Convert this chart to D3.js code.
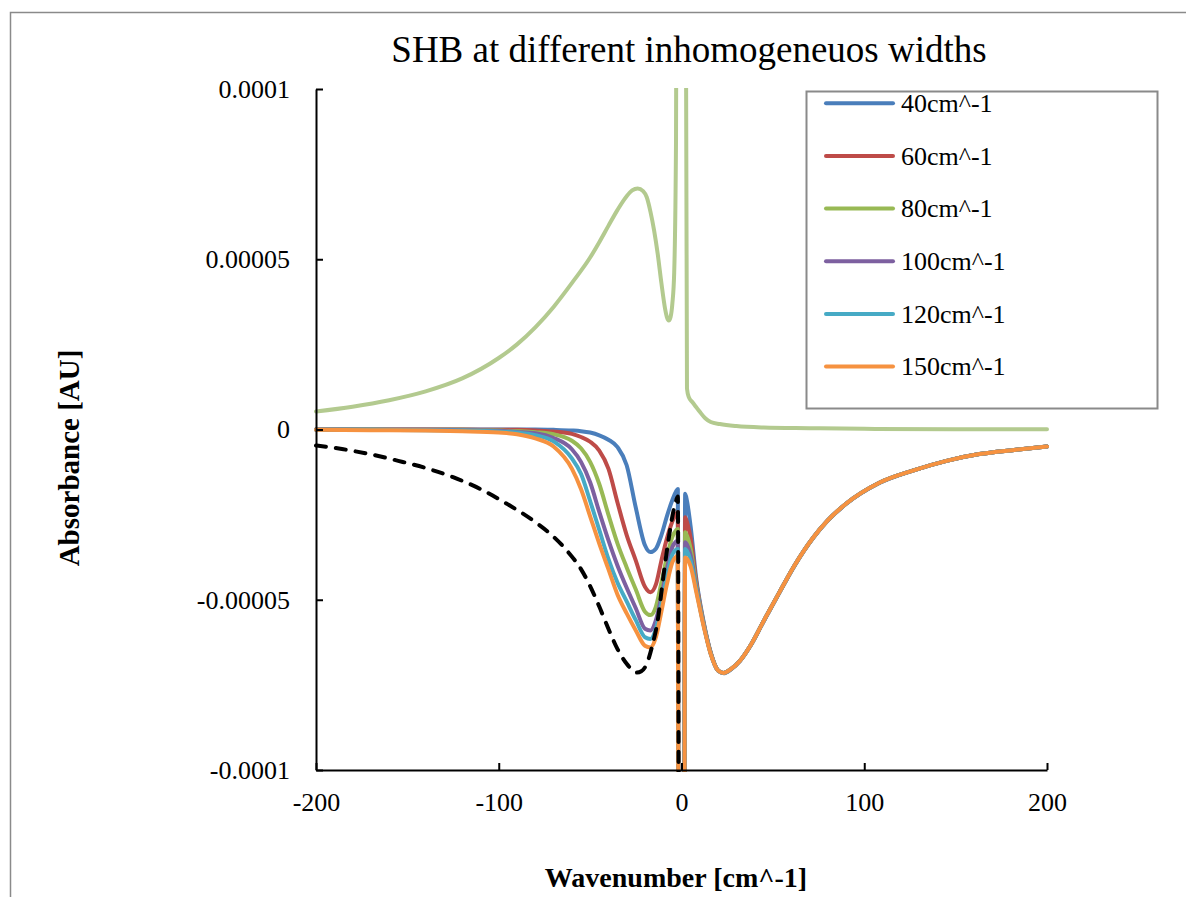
<!DOCTYPE html>
<html>
<head>
<meta charset="utf-8">
<script src="https://cdn.jsdelivr.net/npm/d3@7"></script>
<style>
  body { margin: 0; background: #fff; }
  svg text { font-family: "Liberation Serif", "Times New Roman", serif; fill: #000; }
</style>
</head>
<body>
<svg id="chart" width="1186" height="897"></svg>
<script>
// Absorbance values are given in units of 1e-5 AU.

// Wavenumber grid shared by the hole-burning spectra [cm^-1]
const wavenumber = [-200, -170, -140, -120, -100, -90, -80, -70, -60, -55,
  -50, -45, -40, -35, -30, -25, -20, -17, -14, -11,
  -8, -5, -3, -2, -1, 0, 1, 2, 3, 5,
  8, 12, 16, 20, 23, 27, 32, 38, 45, 54,
  62, 72, 80, 90, 108, 127, 145, 163, 182, 200];

const seriesNames = ["40cm^-1", "60cm^-1", "80cm^-1", "100cm^-1", "120cm^-1", "150cm^-1"];

const shb40 = [0, 0, 0, 0, 0, 0, 0, -0.01, -0.03, -0.05,
  -0.09, -0.17, -0.3, -0.52, -1.05, -2.3, -3.4, -3.6, -3.5, -3.1,
  -2.55, -2.07, -1.82, -1.75, -40, -60, -40, -1.89, -2.1, -2.85,
  -4.35, -5.62, -6.55, -7.08, -7.16, -7.05, -6.8, -6.33, -5.63, -4.75,
  -3.99, -3.19, -2.68, -2.19, -1.58, -1.2, -0.92, -0.72, -0.6, -0.5];

const shb60 = [0, 0, 0, 0, -0.01, -0.01, -0.03, -0.06, -0.13, -0.22,
  -0.36, -0.62, -1.15, -2.15, -3.1, -3.85, -4.62, -4.78, -4.55, -3.85,
  -3.2, -2.7, -2.48, -2.43, -40, -60, -40, -2.58, -2.72, -3.2,
  -4.45, -5.66, -6.56, -7.08, -7.15, -7.04, -6.79, -6.32, -5.62, -4.74,
  -3.98, -3.18, -2.67, -2.18, -1.57, -1.2, -0.92, -0.72, -0.6, -0.5];

const shb80 = [0, 0, -0.01, -0.01, -0.03, -0.05, -0.08, -0.14, -0.33, -0.55,
  -0.95, -1.6, -2.5, -3.35, -4.05, -4.7, -5.35, -5.45, -5.2, -4.5,
  -3.75, -3.15, -2.96, -2.92, -40, -60, -40, -3.02, -3.12, -3.5,
  -4.55, -5.68, -6.57, -7.08, -7.15, -7.04, -6.79, -6.32, -5.62, -4.74,
  -3.98, -3.18, -2.67, -2.18, -1.57, -1.2, -0.92, -0.72, -0.6, -0.5];

const shb100 = [0, -0.01, -0.01, -0.02, -0.04, -0.07, -0.11, -0.25, -0.58, -0.95,
  -1.55, -2.42, -3.25, -4.0, -4.65, -5.25, -5.85, -5.9, -5.6, -4.9,
  -4.1, -3.45, -3.29, -3.26, -40, -60, -40, -3.31, -3.38, -3.7,
  -4.62, -5.7, -6.58, -7.08, -7.15, -7.04, -6.79, -6.32, -5.62, -4.74,
  -3.98, -3.18, -2.67, -2.18, -1.57, -1.2, -0.92, -0.72, -0.6, -0.5];

const shb120 = [-0.005, -0.01, -0.02, -0.03, -0.06, -0.09, -0.17, -0.35, -0.85, -1.3,
  -2.1, -2.95, -3.8, -4.5, -5.05, -5.6, -6.1, -6.15, -5.85, -5.1,
  -4.3, -3.67, -3.53, -3.51, -40, -60, -40, -3.51, -3.57, -3.85,
  -4.68, -5.72, -6.59, -7.08, -7.15, -7.04, -6.79, -6.32, -5.62, -4.74,
  -3.98, -3.18, -2.67, -2.18, -1.57, -1.2, -0.92, -0.72, -0.6, -0.5];

const shb150 = [-0.01, -0.02, -0.03, -0.05, -0.09, -0.14, -0.26, -0.5, -1.15, -1.75,
  -2.55, -3.35, -4.1, -4.85, -5.4, -5.9, -6.35, -6.4, -6.1, -5.35,
  -4.55, -3.9, -3.74, -3.71, -40, -60, -40, -3.76, -3.8, -4.02,
  -4.75, -5.75, -6.6, -7.08, -7.15, -7.04, -6.79, -6.32, -5.62, -4.74,
  -3.98, -3.18, -2.67, -2.18, -1.57, -1.2, -0.92, -0.72, -0.6, -0.5];

const seriesColors = ["#4a7ebb", "#be4b48", "#98b954", "#7d60a0", "#46aac5", "#f69240"];

// Positive (anti-hole) spectrum
const antiHoleX = [-200, -180, -160, -140, -120, -100, -90, -80, -70, -60,
  -50, -45, -40, -35, -30, -27, -24, -21, -19, -17,
  -15, -13, -11, -9, -8, -7, -6, -5, -4, -3,
  -2, -1, 0, 1, 2, 3, 4, 6, 8, 10,
  13, 16, 21, 30, 45, 70, 100, 150, 200];
const antiHole = [0.53, 0.67, 0.86, 1.12, 1.5, 2.1, 2.5, 3.0, 3.6, 4.3,
  5.05, 5.5, 5.98, 6.45, 6.85, 7.02, 7.08, 7.0, 6.82, 6.4,
  5.85, 5.15, 4.3, 3.55, 3.3, 3.2, 3.3, 3.7, 4.6, 8.5,
  30, 60, 70, 60, 20, 1.2, 0.95, 0.8, 0.66, 0.52,
  0.33, 0.22, 0.16, 0.1, 0.06, 0.04, 0.02, 0.01, 0.01];

// Reference hole profile (dashed)
const refX = [-200, -185, -170, -155, -140, -125, -110, -95, -80, -70,
  -62, -55, -50, -45, -40, -35, -30, -27, -24.5, -22,
  -19, -16, -13, -10, -7, -5, -3, -2, -1];
const refHole = [-0.47, -0.58, -0.73, -0.92, -1.13, -1.4, -1.75, -2.2, -2.72, -3.15,
  -3.6, -4.1, -4.6, -5.2, -5.85, -6.45, -6.88, -7.06, -7.14, -7.1,
  -6.88, -6.35, -5.6, -4.35, -3.2, -2.55, -2.1, -1.97, -40];

const xTicks = [-200, -100, 0, 100, 200];
const xTickLabels = ["-200", "-100", "0", "100", "200"];
const yTicks = [-10, -5, 0, 5, 10];
const yTickLabels = ["-0.0001", "-0.00005", "0", "0.00005", "0.0001"];

const titleText = "SHB at different inhomogeneuos widths";
const xTitle = "Wavenumber [cm^-1]";
const yTitle = "Absorbance [AU]";

// ---- layout ----
const plot = { left: 316, right: 1047, top: 89, bottom: 770 };

const svg = d3.select("#chart");

const x = d3.scaleLinear().domain([-200, 200]).range([plot.left, plot.right]);
const y = d3.scaleLinear().domain([-10, 10]).range([plot.bottom, plot.top]);

// outer chart frame
svg.append("path")
  .attr("d", `M10.5,897 V12.5 H1186`)
  .attr("fill", "none")
  .attr("stroke", "#8a8a8a")
  .attr("stroke-width", 1.5);

// title
svg.append("text")
  .attr("x", 689).attr("y", 62)
  .attr("text-anchor", "middle")
  .attr("font-size", 37)
  .text(titleText);

svg.append("defs").append("clipPath").attr("id", "plotClip")
  .append("rect")
  .attr("x", plot.left - 2).attr("y", plot.top - 1)
  .attr("width", plot.right - plot.left + 4)
  .attr("height", plot.bottom - plot.top + 3);

const lineGen = d3.line()
  .x(d => x(d[0]))
  .y(d => y(d[1]))
  .curve(d3.curveMonotoneX);

const marks = svg.append("g").attr("clip-path", "url(#plotClip)");

// anti-hole spectrum
marks.append("path")
  .datum(d3.zip(antiHoleX, antiHole))
  .attr("fill", "none")
  .attr("stroke", "#b3ca8f")
  .attr("stroke-width", 4)
  .attr("stroke-linejoin", "round")
  .attr("stroke-linecap", "round")
  .attr("d", lineGen);

// hole-burning spectra for each inhomogeneous width
const holeSeries = [shb40, shb60, shb80, shb100, shb120, shb150];
holeSeries.forEach((vals, i) => {
  marks.append("path")
    .datum(d3.zip(wavenumber, vals))
    .attr("fill", "none")
    .attr("stroke", seriesColors[i])
    .attr("stroke-width", 4)
    .attr("stroke-linejoin", "round")
    .attr("stroke-linecap", "round")
    .attr("d", lineGen);
});

// dashed reference hole
marks.append("path")
  .datum(d3.zip(refX, refHole))
  .attr("fill", "none")
  .attr("stroke", "#000")
  .attr("stroke-width", 4)
  .attr("stroke-dasharray", "10,10")
  .attr("stroke-linecap", "round")
  .attr("d", lineGen);

// axes
const yAxis = d3.axisLeft(y)
  .tickValues(yTicks)
  .tickFormat((d, i) => yTickLabels[i])
  .tickSize(-7).tickSizeOuter(0).tickPadding(26);

const xAxis = d3.axisBottom(x)
  .tickValues(xTicks)
  .tickFormat((d, i) => xTickLabels[i])
  .tickSize(-7).tickSizeOuter(0).tickPadding(23);

const gy = svg.append("g").attr("transform", `translate(${plot.left},0)`).call(yAxis);
const gx = svg.append("g").attr("transform", `translate(0,${plot.bottom})`).call(xAxis);

[gx, gy].forEach(g => {
  g.select(".domain").attr("stroke", "#000").attr("stroke-width", 2);
  g.selectAll(".tick line").attr("stroke", "#000").attr("stroke-width", 2);
  g.selectAll(".tick text")
    .attr("font-family", "Liberation Serif, Times New Roman, serif")
    .attr("font-size", 26)
    .attr("fill", "#000");
});

// axis titles
svg.append("text")
  .attr("x", 676).attr("y", 887)
  .attr("text-anchor", "middle")
  .attr("font-size", 28)
  .attr("font-weight", "bold")
  .text(xTitle);

svg.append("text")
  .attr("transform", "translate(79,458) rotate(-90)")
  .attr("text-anchor", "middle")
  .attr("font-size", 29)
  .attr("font-weight", "bold")
  .text(yTitle);

// legend
const legend = svg.append("g");
legend.append("rect")
  .attr("x", 806.5).attr("y", 91.5)
  .attr("width", 351).attr("height", 317)
  .attr("fill", "#fff")
  .attr("stroke", "#8a8a8a")
  .attr("stroke-width", 2);

seriesNames.forEach((name, i) => {
  const ly = 103.3 + i * 52.65;
  legend.append("line")
    .attr("x1", 826).attr("x2", 893)
    .attr("y1", ly).attr("y2", ly)
    .attr("stroke", seriesColors[i])
    .attr("stroke-width", 4)
    .attr("stroke-linecap", "round");
  legend.append("text")
    .attr("x", 901).attr("y", ly + 8.7)
    .attr("font-size", 26)
    .text(name);
});
</script>
</body>
</html>
